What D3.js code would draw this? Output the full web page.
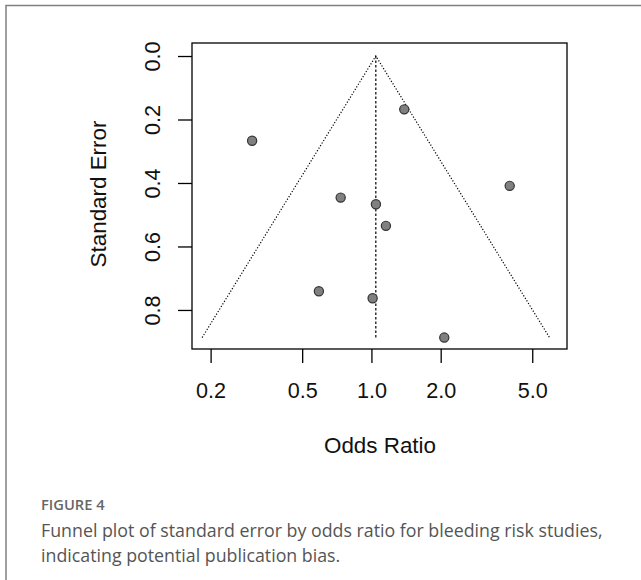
<!DOCTYPE html>
<html><head><meta charset="utf-8">
<script src="https://cdn.jsdelivr.net/npm/d3@7"></script>
<style>
html,body{margin:0;padding:0;background:#fff;}
svg{display:block;}
</style></head>
<body>
<svg id="chart" width="641" height="580"></svg>
<script>
const oddsRatios = [0.303, 0.735, 0.591, 1.389, 3.99, 1.046, 1.156, 1.012, 2.073];
const standardErrors = [0.267, 0.446, 0.741, 0.168, 0.409, 0.467, 0.535, 0.763, 0.887];
const pooledOR = 1.045;
const xTicks = [0.2, 0.5, 1.0, 2.0, 5.0];
const yTicks = [0.0, 0.2, 0.4, 0.6, 0.8];
const xLabel = "Odds Ratio";
const yLabel = "Standard Error";
const figLabel = "FIGURE 4";
const captionLines = ["Funnel plot of standard error by odds ratio for bleeding risk studies,", "indicating potential publication bias."];

const svg = d3.select("#chart");
const box = {left:192, right:567, top:43, bottom:349};
const x = d3.scaleLog().domain([0.166, 7.08]).range([box.left, box.right]);
const y = d3.scaleLinear().domain([-0.041, 0.923]).range([box.top, box.bottom]);

// frame
svg.append("path").attr("d","M6,580 V5.5 H641").attr("fill","none").attr("stroke","#808080").attr("stroke-width",1.5);

const font = "Liberation Sans, Arial, sans-serif";

// funnel
const maxSE = d3.max(standardErrors);
const z = 1.96;
const funnel = [
  [Math.exp(Math.log(pooledOR) - z*maxSE), maxSE],
  [pooledOR, 0],
  [Math.exp(Math.log(pooledOR) + z*maxSE), maxSE]
];
const line = d3.line().x(d=>x(d[0])).y(d=>y(d[1]));
svg.append("path").attr("d", line(funnel)).attr("fill","none").attr("stroke","#000").attr("stroke-width",1.2).attr("stroke-dasharray","1.2,1.8");
svg.append("path").attr("d", line([[pooledOR,0],[pooledOR,maxSE]])).attr("fill","none").attr("stroke","#000").attr("stroke-width",1.2).attr("stroke-dasharray","2.5,2");

// box
svg.append("rect").attr("x",box.left).attr("y",box.top).attr("width",box.right-box.left).attr("height",box.bottom-box.top)
  .attr("fill","none").attr("stroke","#000").attr("stroke-width",1.3);

// x axis
const xAxis = d3.axisBottom(x).tickValues(xTicks).tickFormat(d3.format(".1f")).tickSize(14).tickPadding(20);
const gx = svg.append("g").attr("transform",`translate(0,${box.bottom})`).call(xAxis);
gx.select(".domain").remove();
gx.selectAll("line").attr("stroke","#000").attr("stroke-width",1.3);
gx.selectAll("text").attr("font-family",font).attr("font-size",21.6).attr("fill","#111");

// y axis
const yAxis = d3.axisLeft(y).tickValues(yTicks).tickFormat(d3.format(".1f")).tickSize(14).tickPadding(0);
const gy = svg.append("g").attr("transform",`translate(${box.left},0)`).call(yAxis);
gy.select(".domain").remove();
gy.selectAll("line").attr("stroke","#000").attr("stroke-width",1.3);
gy.selectAll("text").attr("font-family",font).attr("font-size",21.6).attr("fill","#111")
  .attr("x",null).attr("dy",null).attr("text-anchor","middle")
  .attr("transform","translate(-40,0) rotate(-90)").attr("dy","0.35em");

// axis labels
svg.append("text").attr("x",380).attr("y",453).attr("text-anchor","middle").attr("font-family",font).attr("font-size",22.4).attr("fill","#111").text(xLabel);
svg.append("text").attr("transform","translate(98,194) rotate(-90)").attr("dy","0.35em").attr("text-anchor","middle").attr("font-family",font).attr("font-size",22.4).attr("fill","#111").text(yLabel);

// points
svg.append("g").selectAll("circle").data(oddsRatios.map((o,i)=>[o,standardErrors[i]])).join("circle")
  .attr("cx",d=>x(d[0])).attr("cy",d=>y(d[1])).attr("r",4.6)
  .attr("fill","#808080").attr("stroke","#333").attr("stroke-width",1.2);

// caption
const capFont = "Open Sans, Noto Sans, sans-serif";
svg.append("text").attr("x",41).attr("y",510).attr("font-family",capFont).attr("font-size",14.7).attr("font-weight",600).attr("fill","#666").text(figLabel);
svg.selectAll("text.cap").data(captionLines).join("text").attr("class","cap")
  .attr("x",41).attr("y",(d,i)=>537+i*25).attr("font-family",capFont).attr("font-size",17.8).attr("fill","#555").text(d=>d);
</script>
</body></html>
